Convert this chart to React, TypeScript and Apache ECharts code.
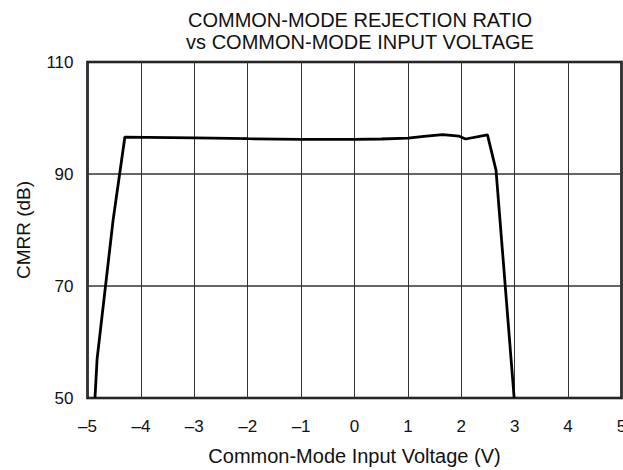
import React, { useEffect, useRef } from "react";
import * as echarts from "echarts";

const titleLines = ["COMMON-MODE REJECTION RATIO", "vs COMMON-MODE INPUT VOLTAGE"];
const xName = "Common-Mode Input Voltage (V)";
const yName = "CMRR (dB)";

const voltage = [-4.86, -4.82, -4.52, -4.3, -3, -2, -1, 0, 0.5, 1, 1.3, 1.65, 1.96, 2.08, 2.49, 2.65, 2.99];
const cmrr = [50, 57, 81.8, 96.6, 96.45, 96.3, 96.2, 96.2, 96.25, 96.4, 96.7, 97.05, 96.75, 96.25, 97.0, 90.7, 50];

const font = "'Liberation Sans', Arial, Helvetica, sans-serif";

export default function App() {
  const ref = useRef<HTMLDivElement>(null);
  useEffect(() => {
    if (!ref.current) return;
    const chart = echarts.init(ref.current, null, { renderer: "svg" });
    chart.setOption({
      animation: false,
      backgroundColor: "#ffffff",
      textStyle: { fontFamily: font },
      title: {
        text: titleLines.join("\n"),
        left: 355,
        top: 4,
        textAlign: "center",
        textStyle: { fontFamily: font, fontSize: 20, fontWeight: "normal", color: "#111", lineHeight: 22 },
      },
      grid: {
        left: 87.5,
        right: 1.5,
        top: 62,
        bottom: 72,
        outerBoundsMode: "none",
        containLabel: false,
        show: true,
        borderColor: "#000",
        borderWidth: 2.5,
        backgroundColor: "transparent",
      },
      xAxis: {
        type: "value",
        min: -5,
        max: 5,
        interval: 1,
        name: xName,
        nameLocation: "middle",
        nameGap: 48,
        nameTextStyle: { fontFamily: font, fontSize: 20, color: "#111" },
        axisLine: { show: false },
        axisTick: { show: false },
        axisLabel: {
          margin: 20,
          fontFamily: font,
          fontSize: 17,
          color: "#111",
          formatter: (v: number) => (v < 0 ? "\u2013" + Math.abs(v) : String(v)),
        },
        splitLine: { show: true, lineStyle: { color: "#333", width: 1 } },
      },
      yAxis: {
        type: "value",
        min: 50,
        max: 110,
        interval: 20,
        name: yName,
        nameLocation: "middle",
        nameGap: 55,
        nameRotate: 90,
        nameTextStyle: { fontFamily: font, fontSize: 19, color: "#111" },
        axisLine: { show: false },
        axisTick: { show: false },
        axisLabel: { margin: 14, fontFamily: font, fontSize: 17, color: "#111" },
        splitLine: { show: true, lineStyle: { color: "#333", width: 1.5 } },
      },
      series: [
        {
          type: "line",
          data: voltage.map((v, i) => [v, cmrr[i]]),
          showSymbol: false,
          symbol: "none",
          lineStyle: { color: "#000", width: 2.8 },
          z: 3,
        },
      ],
    });
    return () => chart.dispose();
  }, []);
  return <div ref={ref} style={{ position: "fixed", left: 0, top: 0, width: 623, height: 470 }} />;
}
